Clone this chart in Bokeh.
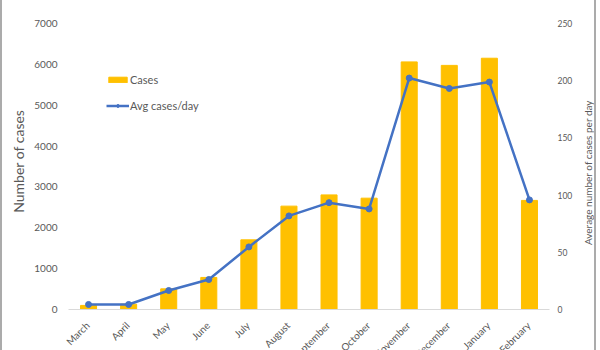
import math
from bokeh.plotting import figure
from bokeh.models import Range1d, ColumnDataSource, Legend, LegendItem, FixedTicker
from bokeh.core.properties import value
from bokeh.embed import file_html
from bokeh.resources import INLINE

months = ["March", "April", "May", "June", "July", "August", "September",
          "October", "November", "December", "January", "February"]
cases = [100, 130, 505, 785, 1705, 2530, 2805, 2725, 6060, 5975, 6150, 2670]
avg_per_day = [4.4, 4.4, 16.6, 26.2, 54.7, 81.8, 93.4, 87.9, 202.3, 193.2, 198.8, 95.8]
left_ticks = [0, 1000, 2000, 3000, 4000, 5000, 6000, 7000]
right_ticks = [0, 50, 100, 150, 200, 250]
left_title = "Number of cases"
right_title = "Average number of cases per day"

FONT = "Lato"
GREY = "#595959"

# layout constants (page pixels)
W, H = 600, 350
BORDER = 2
TOP = 23          # y of the 7000 / 250 level
BASE = 309        # y of the zero line
CAT_LEFT = 68     # x where the category band starts
CAT_RIGHT = 549   # x where the category band ends
FRAME_LEFT = 61   # frame extends a bit left so month labels are not clipped
FRAME_RIGHT = W - BORDER
RIGHT_TITLE_X = 587
RIGHT_TITLE_Y = 172
plot_h = BASE - TOP

n = len(months)
idx = list(range(n))
step = (CAT_RIGHT - CAT_LEFT) / n

left_max, right_max = 7000, 250
left_lo = -(H - BASE) * left_max / plot_h
left_hi = left_max + TOP * left_max / plot_h
right_lo = -(H - BASE) * right_max / plot_h
right_hi = right_max + TOP * right_max / plot_h

src = ColumnDataSource(dict(i=idx, month=months, cases=cases, avg=avg_per_day, y0=[0] * n))
rsrc = ColumnDataSource(dict(x=[n - 0.5] * len(right_ticks), y=right_ticks,
                             t=[str(v) for v in right_ticks]))

p = figure(width=W - 2 * BORDER, height=H,
           x_range=Range1d(-0.5 - (CAT_LEFT - FRAME_LEFT) / step,
                           n - 0.5 + (FRAME_RIGHT - CAT_RIGHT) / step),
           y_range=Range1d(left_lo, left_hi), x_axis_location=None,
           output_backend="svg", toolbar_location=None,
           min_border_left=FRAME_LEFT - BORDER, min_border_right=0,
           min_border_top=0, min_border_bottom=0)
p.styles = {"border-left": f"{BORDER}px solid #ABABAB",
            "border-right": f"{BORDER}px solid #ABABAB"}
p.outline_line_color = None
p.xgrid.grid_line_color = None
p.ygrid.grid_line_color = None

bars = p.vbar(x="i", top="cases", width=0.4, source=src, color="#FFC000")

p.extra_y_ranges = {"right": Range1d(right_lo, right_hi)}
line = p.line(x="i", y="avg", source=src, y_range_name="right",
              line_color="#4472C4", line_width=2.5)
pts = p.scatter(x="i", y="avg", source=src, y_range_name="right",
                size=6, fill_color="#4472C4", line_color="#4472C4")

# zero baseline across the category band
p.segment(x0=[-0.5], x1=[n - 0.5], y0=[0], y1=[0], line_color="#D9D9D9", line_width=1)

# month labels, rotated
p.text(x="i", y="y0", text="month", source=src, angle=math.pi / 4,
       text_align="right", text_baseline="middle", x_offset=-1, y_offset=14,
       text_font=value(FONT), text_font_size="10px", text_color=GREY)

# secondary (right) axis: tick labels and title
p.text(x="x", y="y", text="t", source=rsrc, y_range_name="right",
       text_align="left", text_baseline="middle", x_offset=8,
       text_font=value(FONT), text_font_size="8.5px", text_color=GREY)
p.text(x=[n - 0.5], y=[(BASE - RIGHT_TITLE_Y) * right_max / plot_h], text=[right_title],
       y_range_name="right", angle=math.pi / 2, x_offset=RIGHT_TITLE_X - CAT_RIGHT,
       text_align="center", text_baseline="middle",
       text_font=value(FONT), text_font_size="10px", text_color=GREY)

NB = "\u00a0"

# left axis
ya = p.yaxis[0]
ya.ticker = FixedTicker(ticks=left_ticks)
ya.axis_line_color = None
ya.major_tick_line_color = None
ya.minor_tick_line_color = None
ya.major_tick_out = 0
ya.major_tick_in = 0
ya.minor_tick_out = 0
ya.minor_tick_in = 0
ya.major_label_text_font = FONT
ya.major_label_text_font_size = "10px"
ya.major_label_text_color = GREY
ya.major_label_standoff = 4
ya.axis_label = NB * 8 + left_title
ya.axis_label_text_font = FONT
ya.axis_label_text_font_size = "14px"
ya.axis_label_text_font_style = "normal"
ya.axis_label_text_color = GREY
ya.axis_label_standoff = 4

legend = Legend(items=[LegendItem(label="Cases", renderers=[bars]),
                       LegendItem(label="Avg cases/day", renderers=[line, pts])],
                location=(45, 238), padding=0, margin=0, spacing=13,
                glyph_width=23, glyph_height=7, label_standoff=1,
                label_text_font=FONT, label_text_font_size="11px", label_text_color=GREY,
                border_line_color=None, background_fill_alpha=0)
p.add_layout(legend)

open("out.html", "w").write(file_html(p, INLINE))
